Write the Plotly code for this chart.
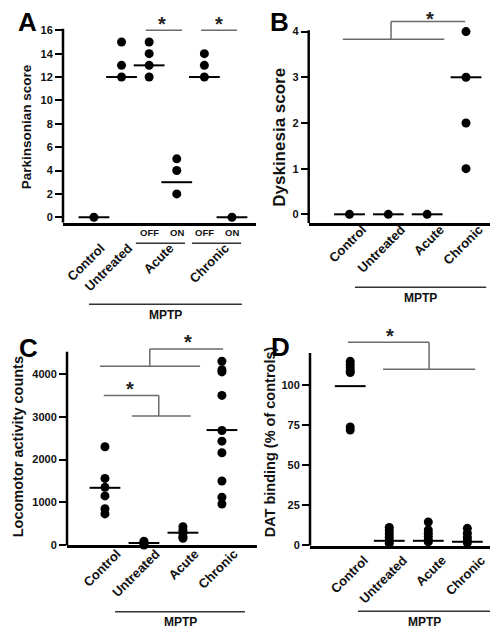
import plotly.graph_objects as go

W, H = 498, 628

# ---------------- data ----------------
# Panel A: Parkinsonian score
a_groups = ["Control", "Untreated", "Acute OFF", "Acute ON", "Chronic OFF", "Chronic ON"]
a_values = [
    [0],
    [15, 13, 12],
    [15, 14, 13, 12],
    [5, 4, 2],
    [14, 13, 12],
    [0],
]
a_medians = [0, 12, 13, 3, 12, 0]
a_yticks = [0, 2, 4, 6, 8, 10, 12, 14, 16]
a_labels = ["Control", "Untreated", "Acute", "Chronic"]
a_label_pos = [0, 1, 2.5, 4.5]
a_state = ["OFF", "ON", "OFF", "ON"]

# Panel B: Dyskinesia score
b_groups = ["Control", "Untreated", "Acute", "Chronic"]
b_values = [[0], [0], [0], [4, 3, 2, 1]]
b_medians = [0, 0, 0, 3]
b_yticks = [0, 1, 2, 3, 4]

# Panel C: Locomotor activity counts
c_groups = ["Control", "Untreated", "Acute", "Chronic"]
c_values = [
    [2300, 1560, 1350, 1150, 850, 730],
    [90, 60, 30, 0, -30],
    [430, 350, 280, 200, 160],
    [4300, 4100, 4050, 3500, 2680, 2430, 2160, 1500, 1120, 960],
]
c_medians = [1340, 50, 290, 2690]
c_yticks = [0, 1000, 2000, 3000, 4000]

# Panel D: DAT binding (% of controls)
d_groups = ["Control", "Untreated", "Acute", "Chronic"]
d_values = [
    [115, 113, 111, 109, 108, 74, 72],
    [11, 9, 7, 5, 3, 1],
    [14.5, 9.5, 7.5, 5.5, 3.5, 2],
    [10.5, 7.5, 5, 3, 1.5],
]
d_medians = [99.5, 2.7, 2.7, 2.1]
d_yticks = [0, 25, 50, 75, 100]

# ---------------- helpers ----------------
FONT = "Liberation Sans, Arial, Helvetica, sans-serif"
INK = "#111111"
BR = "#6a6a6a"   # bracket colour
ML = "#333333"   # MPTP line colour


def px(v):
    return v / W


def py(v):
    return 1 - v / H


fig = go.Figure()
shapes = []
annos = []

panels = [
    dict(ax="", groups=a_groups, values=a_values, med=a_medians, yt=a_yticks,
         xd=(55, 248), xr=(-1.12, 5.87), yd=(216.7, 8), yr=(-0.46, 17.23), spine=16.13,
         tv=a_label_pos, tt=a_labels, shift=7, standoff=10),
    dict(ax="2", groups=b_groups, values=b_values, med=b_medians, yt=b_yticks,
         xd=(300.7, 498), xr=(-1.05, 4.03), yd=(217.3, 4), yr=(-0.195, 4.43), spine=4.03,
         tv=list(range(len(b_groups))), tt=b_groups, shift=13, standoff=-9),
    dict(ax="3", groups=c_groups, values=c_values, med=c_medians, yt=c_yticks,
         xd=(59, 249), xr=(-0.974, 3.9), yd=(542.6, 325), yr=(-7, 5032), spine=4523,
         tv=list(range(len(c_groups))), tt=c_groups, shift=12, standoff=-7),
    dict(ax="4", groups=d_groups, values=d_values, med=d_medians, yt=d_yticks,
         xd=(302, 498), xr=(-1.03, 3.99), yd=(543, 325), yr=(-0.43, 134.7), spine=120.3,
         tv=list(range(len(d_groups))), tt=d_groups, shift=14, standoff=-1),
]

layout_axes = {}
for p in panels:
    xa, ya = "x" + p["ax"], "y" + p["ax"]
    for i, vals in enumerate(p["values"]):
        fig.add_trace(go.Scatter(
            x=[i] * len(vals), y=vals, mode="markers", xaxis=xa, yaxis=ya,
            marker=dict(color="black", size=9), cliponaxis=False, showlegend=False,
            hoverinfo="skip"))
    fig.add_trace(go.Scatter(
        x=list(range(len(p["groups"]))), y=p["med"], mode="markers", xaxis=xa, yaxis=ya,
        marker=dict(symbol="line-ew", size=22, line=dict(color="black", width=2)),
        cliponaxis=False, showlegend=False, hoverinfo="skip"))
    layout_axes["xaxis" + p["ax"]] = dict(
        domain=[px(p["xd"][0]), px(p["xd"][1])], range=list(p["xr"]), anchor=ya,
        showline=True, linecolor="black", linewidth=2.5, showgrid=False, zeroline=False,
        tickmode="array", tickvals=p["tv"], ticktext=p["tt"], ticks="", tickangle=-45,
        ticklabelshift=p["shift"], ticklabelstandoff=p["standoff"],
        tickfont=dict(family=FONT, size=13, color=INK, weight="bold"), fixedrange=True)
    layout_axes["yaxis" + p["ax"]] = dict(
        domain=[py(p["yd"][0]), py(p["yd"][1])], range=list(p["yr"]), anchor=xa,
        showline=False, showgrid=False, zeroline=False, tickvals=p["yt"],
        ticks="outside", ticklen=7, tickwidth=2, tickcolor="black",
        tickfont=dict(family=FONT, size=11, color=INK, weight="bold"), fixedrange=True)
    # y spine
    shapes.append(dict(type="line", xref=xa + " domain", yref=ya, x0=0, x1=0,
                       y0=p["yr"][0], y1=p["spine"], line=dict(color="black", width=2.5)))


def seg(xa, ya, x0, y0, x1, y1, color=BR, w=1.5):
    shapes.append(dict(type="line", xref=xa, yref=ya, x0=x0, x1=x1, y0=y0, y1=y1,
                       line=dict(color=color, width=w)))


def star(xa, ya, x, y):
    annos.append(dict(text="*", x=x, y=y, xref=xa, yref=ya, showarrow=False,
                      xanchor="center", yanchor="middle",
                      font=dict(family=FONT, size=20, color="#222", weight="bold")))


# ---- Panel A brackets
seg("x", "y", 1.88, 16, 3.19, 16)
seg("x", "y", 3.88, 16, 5.18, 16)
star("x", "y", 2.48, 16.5)
star("x", "y", 4.53, 16.5)
# ---- Panel B bracket
seg("x2", "y2", -0.17, 3.83, 2.44, 3.83)
seg("x2", "y2", 1.07, 3.83, 1.07, 4.22)
seg("x2", "y2", 1.07, 4.22, 2.98, 4.22)
star("x2", "y2", 2.08, 4.27)
# ---- Panel C brackets
seg("x3", "y3", -0.03, 3500, 1.38, 3500)
seg("x3", "y3", 1.38, 3500, 1.38, 3020)
seg("x3", "y3", 0.69, 3020, 2.2, 3020)
star("x3", "y3", 0.64, 3660)
seg("x3", "y3", -0.13, 4180, 2.44, 4180)
seg("x3", "y3", 1.15, 4180, 1.15, 4587)
seg("x3", "y3", 1.15, 4587, 3.03, 4587)
star("x3", "y3", 2.13, 4760)
# ---- Panel D bracket
seg("x4", "y4", -0.06, 127, 2.02, 127)
seg("x4", "y4", 2.02, 127, 2.02, 110)
seg("x4", "y4", 0.84, 110, 3.2, 110)
star("x4", "y4", 1.02, 131)

# OFF / ON
for i, t in enumerate(a_state):
    annos.append(dict(text=t, x=2 + i, y=py(227), xref="x", yref="paper", showarrow=False,
                      xanchor="center", yanchor="middle",
                      font=dict(family=FONT, size=9.5, color=INK, weight="bold")))
shapes.append(dict(type="line", xref="x", yref="paper", x0=1.52, x1=3.3, y0=py(237.5), y1=py(237.5),
                   line=dict(color=ML, width=1.5)))
shapes.append(dict(type="line", xref="x", yref="paper", x0=3.55, x1=5.33, y0=py(237.5), y1=py(237.5),
                   line=dict(color=ML, width=1.5)))


def mptp(xa, x0, x1, line_py, text_py):
    shapes.append(dict(type="line", xref=xa, yref="paper", x0=x0, x1=x1, y0=py(line_py), y1=py(line_py),
                       line=dict(color=ML, width=1.5)))
    annos.append(dict(text="MPTP", x=(x0 + x1) / 2, y=py(text_py), xref=xa, yref="paper",
                      showarrow=False, xanchor="center", yanchor="middle",
                      font=dict(family=FONT, size=12, color=INK, weight="bold")))


mptp("x", -0.18, 5.36, 299, 309.5)
mptp("x2", 0.14, 3.52, 282, 293)
mptp("x3", 0.26, 3.59, 609.5, 619.5)
mptp("x4", 0.2, 3.58, 609, 619.5)

# ---- y titles
for text, cx, cy, sz in [("Parkinsonian score", 18.5, 120, 13.5),
                         ("Dyskinesia score", 272, 131, 17),
                         ("Locomotor activity counts", 9.5, 443, 14.5),
                         ("DAT binding (% of controls)", 261.5, 438, 14.5)]:
    annos.append(dict(text=text, x=px(cx), y=py(cy), xref="paper", yref="paper", showarrow=False,
                      textangle=-90, xanchor="center", yanchor="middle",
                      font=dict(family=FONT, size=sz, color=INK, weight="bold")))

# ---- panel letters
for t, cx, cy in [("A", 19, 14), ("B", 271, 14), ("C", 20, 343), ("D", 272, 342)]:
    annos.append(dict(text=t, x=px(cx), y=py(cy), xref="paper", yref="paper", showarrow=False,
                      xanchor="center", yanchor="middle",
                      font=dict(family=FONT, size=26, color="black", weight="bold")))

fig.update_layout(
    width=W, height=H, margin=dict(l=0, r=0, t=0, b=0),
    paper_bgcolor="white", plot_bgcolor="white",
    shapes=shapes, annotations=annos, showlegend=False,
    **layout_axes,
)
fig.write_html("out.html")
